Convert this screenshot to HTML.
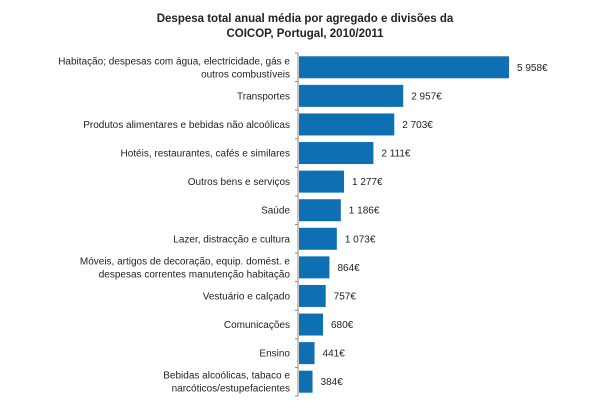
<!DOCTYPE html>
<html><head><meta charset="utf-8"><style>
body{margin:0;background:#fff;font-family:"Liberation Sans",sans-serif}
svg text{font-family:"Liberation Sans",sans-serif;font-size:10px;fill:#222}
</style></head><body>
<svg id="c" width="610" height="410">
<text x="305" y="22" text-anchor="middle" style="font-weight:bold;font-size:11.5px">Despesa total anual média por agregado e divisões da</text>
<text x="305" y="37" text-anchor="middle" style="font-weight:bold;font-size:11.5px">COICOP, Portugal, 2010/2011</text>
<g id="g"></g>
</svg>
<script>
const categories=[["Habitação; despesas com água, electricidade, gás e","outros combustíveis"],["Transportes"],["Produtos alimentares e bebidas não alcoólicas"],["Hotéis, restaurantes, cafés e similares"],["Outros bens e serviços"],["Saúde"],["Lazer, distracção e cultura"],["Móveis, artigos de decoração, equip. domést. e","despesas correntes manutenção habitação"],["Vestuário e calçado"],["Comunicações"],["Ensino"],["Bebidas alcoólicas, tabaco e","narcóticos/estupefacientes"]];
const values=[5958,2957,2703,2111,1277,1186,1073,864,757,680,441,384];
const valueLabels=["5 958€","2 957€","2 703€","2 111€","1 277€","1 186€","1 073€","864€","757€","680€","441€","384€"];
const NS="http://www.w3.org/2000/svg",g=document.getElementById('g');
const x0=299,top0=53,bottom=396,step=(bottom-top0)/values.length;
const xs=v=>x0+v*210/5958;
function mk(t,a){const e=document.createElementNS(NS,t);for(const k in a)e.setAttribute(k,a[k]);g.appendChild(e);return e;}
const ax=mk('line',{x1:298,y1:top0,x2:298,y2:bottom,stroke:'#888'});


for(let i=0;i<=values.length;i++){const t=mk('line',{x1:295,x2:298,y1:top0+i*step,y2:top0+i*step,stroke:'#888'});

}
values.forEach((v,i)=>{
const cy=top0+(i+0.5)*step;
const r=mk('rect',{x:x0,y:cy-11,width:xs(v)-x0,height:22,fill:'#0e70b2'});


const l=mk('text',{x:xs(v)+8,y:cy+3.5});l.textContent=valueLabels[i];


const lines=categories[i];
lines.forEach((s,j)=>{const t=mk('text',{x:290,y:cy+3.5+(j-(lines.length-1)/2)*13,'text-anchor':'end'});t.textContent=s;

});
});
</script>
</body></html>
